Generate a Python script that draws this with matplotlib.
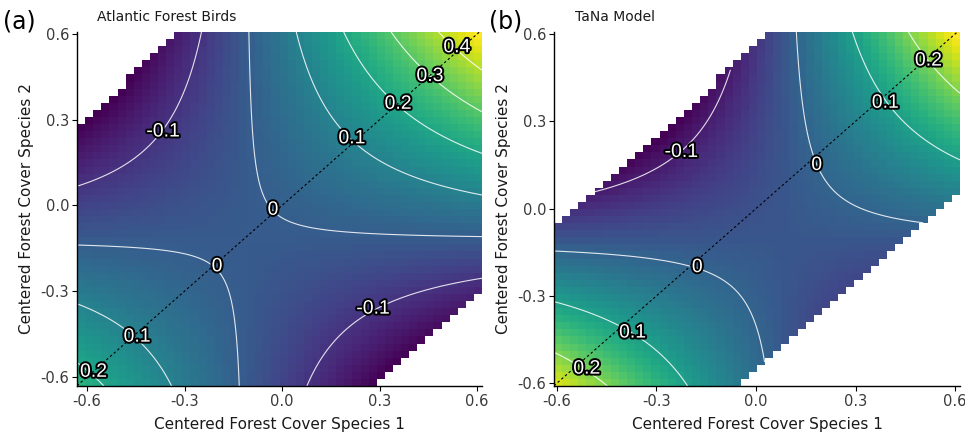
import numpy as np
import matplotlib
matplotlib.use("Agg")
import matplotlib.pyplot as plt
import matplotlib.patheffects as pe

# ---- data ----
# fitted response surface: z = b0 + b1*x + b2*y + b3*x*y
coef_a = [0.0047, 0.1142, 0.1077, 0.9411]
coef_b = [-0.0287, 0.0904, -0.0713, 0.8260]
# data extent (x range, y range) and max |Species2 - Species1| covered
xrange_a = [-0.631, 0.615]
yrange_a = [-0.632, 0.607]
xrange_b = [-0.609, 0.615]
yrange_b = [-0.610, 0.607]
band_a = 0.915
band_b = 0.556
levels_a = [-0.1, 0.0, 0.1, 0.2, 0.3, 0.4]
levels_b = [-0.1, 0.0, 0.1, 0.2]
# contour labels
lab_a_text = ["-0.1", "0.1", "0.2", "0.3", "0.4", "0", "0", "-0.1", "0.1", "0.2"]
lab_a_x = [-0.366, 0.215, 0.357, 0.455, 0.538, -0.028, -0.200, 0.280, -0.446, -0.580]
lab_a_y = [0.257, 0.233, 0.354, 0.451, 0.552, -0.017, -0.215, -0.363, -0.461, -0.584]
lab_b_text = ["-0.1", "0", "0.1", "0.2", "0", "0.1", "0.2"]
lab_b_x = [-0.225, 0.183, 0.390, 0.520, -0.177, -0.372, -0.510]
lab_b_y = [0.193, 0.148, 0.362, 0.507, -0.203, -0.428, -0.552]
ticks = [-0.6, -0.3, 0.0, 0.3, 0.6]
tick_labels = ["-0.6", "-0.3", "0.0", "0.3", "0.6"]
titles = ["Atlantic Forest Birds", "TaNa Model"]
tags = ["(a)", "(b)"]

plt.rcParams['font.family'] = ['DejaVu Sans']

fig = plt.figure(figsize=(9.65, 4.33), dpi=100)
W, H = 965, 433

def surface(c, X, Y):
    return c[0] + c[1] * X + c[2] * Y + c[3] * X * Y

def panel(rect, coef, xr, yr, band, levels, lt, lx, ly, title, tag, title_x, tag_x):
    l, t, r, b = rect
    ax = fig.add_axes([l / W, 1 - b / H, (r - l) / W, (b - t) / H])
    n = 50
    xe = np.linspace(xr[0], xr[1], n + 1)
    ye = np.linspace(yr[0], yr[1], n + 1)
    xc = 0.5 * (xe[:-1] + xe[1:])
    yc = 0.5 * (ye[:-1] + ye[1:])
    XC, YC = np.meshgrid(xc, yc)
    Z = surface(coef, XC, YC)
    Z = np.ma.masked_where(np.abs(YC - XC) > band, Z)
    ax.pcolormesh(xe, ye, Z, cmap="viridis", vmin=Z.min(), vmax=Z.max(),
                  shading="flat", rasterized=True)
    # fine grid for contour lines
    xf = np.linspace(xr[0], xr[1], 400)
    yf = np.linspace(yr[0], yr[1], 400)
    XF, YF = np.meshgrid(xf, yf)
    ZF = surface(coef, XF, YF)
    ZF = np.ma.masked_where(np.abs(YF - XF) > band, ZF)
    ax.contour(XF, YF, ZF, levels=levels, colors="white", linewidths=0.8,
               linestyles="solid", alpha=0.85)
    lo, hi = max(xr[0], yr[0]), min(xr[1], yr[1])
    ax.plot([lo, hi], [lo, hi], color="black", lw=0.8, dashes=(2.2, 2.2))
    for s, x, y in zip(lt, lx, ly):
        ax.text(x, y, s, ha="center", va="center", fontsize=14,
                family="Liberation Sans", color="white",
                path_effects=[pe.withStroke(linewidth=2.8, foreground="black")])
    ax.set_xlim(xr)
    ax.set_ylim(yr)
    ax.set_xticks(ticks)
    ax.set_xticklabels(tick_labels)
    ax.set_yticks(ticks)
    ax.set_yticklabels(tick_labels)
    for sp in ["top", "right"]:
        ax.spines[sp].set_visible(False)
    for sp in ["left", "bottom"]:
        ax.spines[sp].set_linewidth(1.0)
        ax.spines[sp].set_color("black")
    ax.tick_params(length=3.5, width=0.8, labelsize=10.5, labelcolor="#3a3a3a", pad=2)
    ax.set_xlabel("Centered Forest Cover Species 1", fontsize=11, color="#1a1a1a", labelpad=6)
    ax.set_ylabel("Centered Forest Cover Species 2", fontsize=11, color="#1a1a1a", labelpad=5)
    fig.text(title_x / W, 1 - 17 / H, title, fontsize=10, ha="left", va="center", color="#1a1a1a")
    fig.text(tag_x / W, 1 - 21 / H, tag, fontsize=17, ha="left", va="center", color="black")
    return ax

panel((77, 32, 482, 386), coef_a, xrange_a, yrange_a, band_a, levels_a,
      lab_a_text, lab_a_x, lab_a_y, titles[0], tags[0], 97, 3)
panel((554, 32, 960, 386), coef_b, xrange_b, yrange_b, band_b, levels_b,
      lab_b_text, lab_b_x, lab_b_y, titles[1], tags[1], 575, 489)

fig.savefig("out.png", dpi=100)
